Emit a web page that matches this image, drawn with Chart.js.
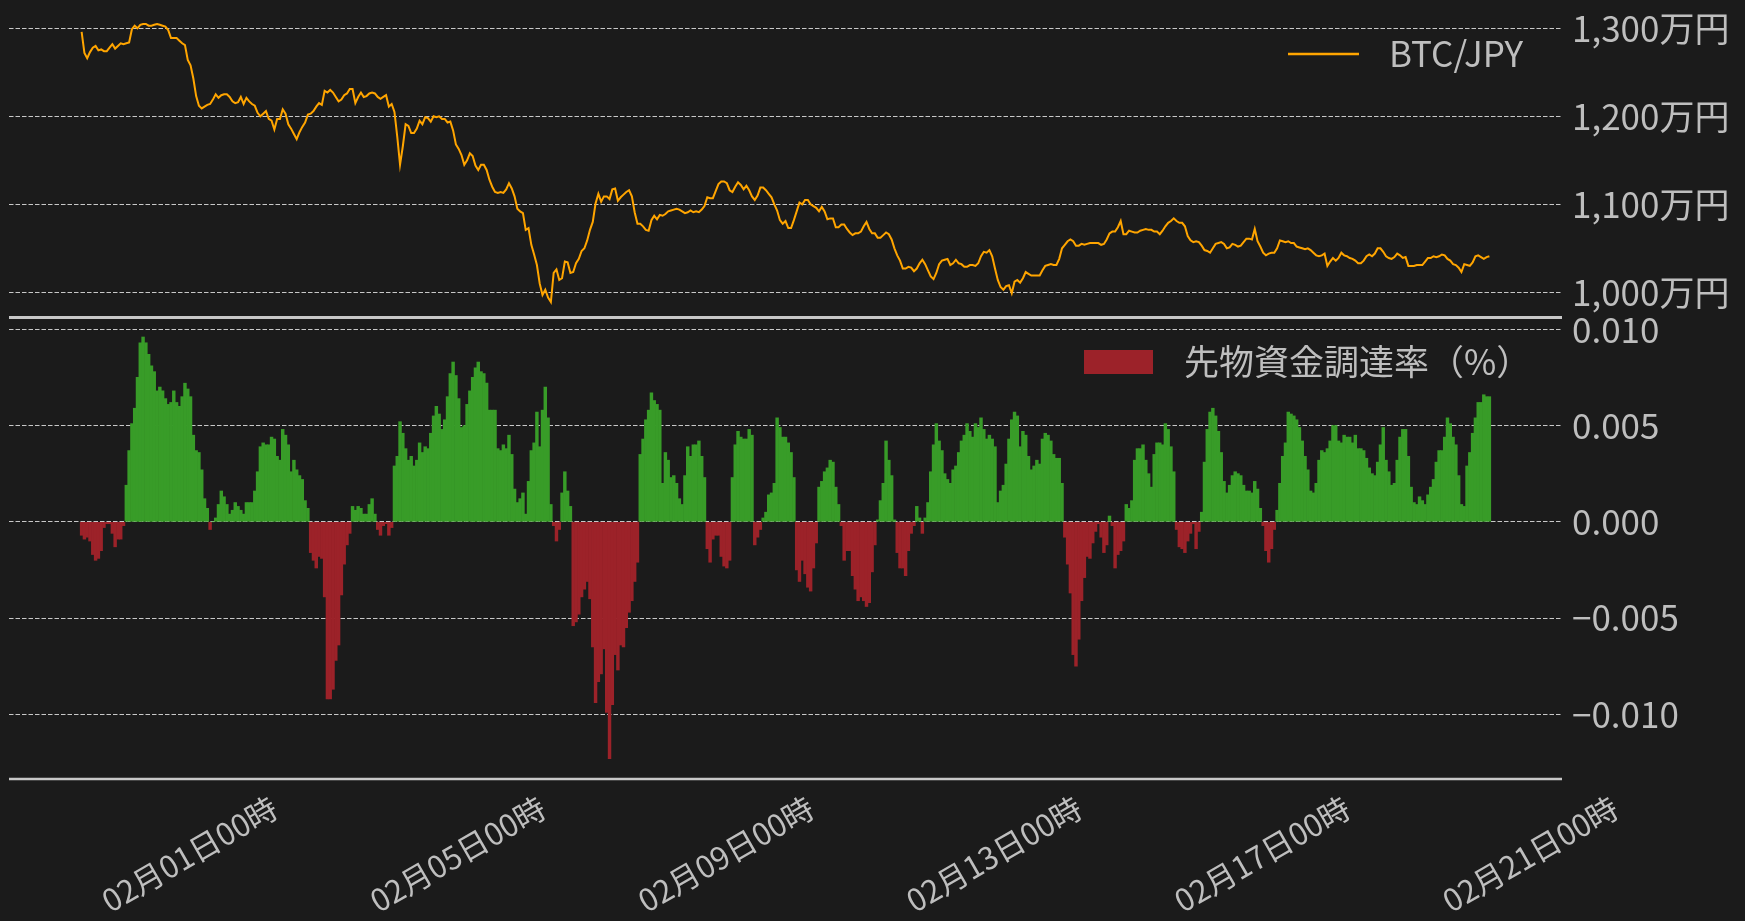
<!DOCTYPE html>
<html>
<head>
<meta charset="utf-8">
<script src="https://cdn.jsdelivr.net/npm/chart.js@4.4.1/dist/chart.umd.min.js"></script>
<style>
html,body{margin:0;padding:0;background:#1b1b1b;width:1745px;height:921px;overflow:hidden;}
#b1{position:absolute;left:0;top:0;width:1745px;height:330px;}
#b2{position:absolute;left:0;top:280px;width:1745px;height:641px;}
</style>
</head>
<body>
<div id="b1"><canvas id="c1"></canvas></div>
<div id="b2"><canvas id="c2"></canvas></div>
<script>
// hourly samples, first sample = 01月30日09時 (x = hours since first sample)
const price = [
1296,1272,1266,1273,1278,1280,1275,1276,1274,1274,
1278,1282,1277,1280,1283,1282,1283,1284,1299,1303,
1300,1304,1305,1305,1303,1303,1304,1305,1304,1303,
1302,1298,1289,1289,1289,1286,1283,1281,1264,1258,
1243,1223,1212,1209,1211,1213,1214,1219,1225,1221,
1224,1225,1225,1222,1217,1215,1216,1222,1214,1221,
1217,1214,1212,1204,1200,1203,1206,1197,1195,1185,
1197,1197,1208,1203,1191,1186,1180,1174,1182,1188,
1193,1202,1203,1206,1211,1215,1213,1229,1227,1230,
1227,1222,1217,1219,1224,1226,1231,1231,1215,1222,
1227,1222,1223,1226,1227,1226,1222,1220,1222,1224,
1211,1214,1205,1177,1145,1166,1191,1189,1181,1181,
1186,1195,1191,1199,1198,
1194,1200,1199,1200,1197,1197,1193,1194,1184,1168,
1163,1156,1145,1150,1158,1155,1144,1139,1145,1145,
1139,1128,1120,1114,1113,1114,1113,1117,1124,1118,
1109,1095,1092,1090,1071,1073,1054,1043,1031,1010,
997,1003,994,989,1022,1026,1014,1016,1035,1034,
1022,1023,1033,1038,1047,1050,1059,1071,1080,1101,
1112,1103,1109,1109,1106,1117,1118,1104,1108,1111,
1114,1116,1109,1091,1078,1078,1075,1071,1070,1082,
1087,1083,1088,1087,1089,1092,1093,1094,1095,1094,
1092,1090,1091,1093,1091,1092,1091,1094,1098,1108,
1107,1107,1115,1123,1126,1126,1124,1116,1114,1120,
1125,1122,1117,1121,1116,1109,1105,1110,1119,1119,
1116,1112,1108,1100,1093,1082,1078,1081,1073,
1073,1082,1092,1102,1100,1105,1105,1100,1098,1096,
1092,1097,1092,1083,1084,1084,1074,1074,1077,1077,
1072,1068,1065,1067,1067,1069,1075,1080,1072,1067,
1067,1062,1062,1065,1068,1066,1060,1050,1042,1036,
1027,1027,1029,1028,1024,1027,1033,1037,1032,1025,
1018,1015,1022,1032,1036,1037,1038,1031,1033,1037,
1033,1032,1029,1029,1031,1031,1030,1033,1041,1046,
1045,1048,1041,1027,1014,1006,1003,1007,1008,999,
1012,1014,1011,1016,1023,1021,1019,1019,1019,1019,
1025,1030,1031,1032,1031,1031,1038,1050,1054,1058,
1060,1058,1053,1053,1055,1054,1055,1056,1056,1056,
1056,1054,1055,1060,1067,1069,1069,1074,1081,1066,
1066,1070,1069,1068,1068,1070,1071,1072,1071,
1071,1069,1069,1066,1070,1075,1079,1081,1084,1081,
1079,1079,1075,1064,1059,1057,1058,1057,1053,1048,
1047,1045,1050,1055,1056,1057,1055,1050,1051,1055,
1054,1052,1053,1057,1061,1061,1060,1072,1058,1052,
1045,1042,1044,1045,1045,1050,1059,1058,1057,1058,
1056,1056,1052,1051,1050,1049,1050,1048,1045,1042,
1041,1042,1044,1030,1035,1039,1036,1039,1045,1042,
1041,1039,1038,1036,1033,1033,1036,1041,1043,1041,
1044,1050,1050,1046,1041,1039,1038,1040,1044,1042,
1039,1040,1030,1030,1030,1031,1031,1031,1035,1039,
1039,1041,1040,1041,1043,1042,1038,1036,1032,1031,
1028,1023,1032,1031,1030,1034,1041,1042,1040,1038,
1040,1041
];

const fundingRate = [
-.0007,-.0009,-.0008,-.0010,-.0017,-.0020,-.0019,-.0015,-.0003,-.0001,-.0001,-.0006,-.0013,-.0009,-.0009,-.0002,
.0019,.0037,.0051,.0059,.0075,.0093,.0096,.0093,.0087,.0081,.0078,.0068,.0070,.0068,.0064,.0061,.0062,.0068,.0062,.0060,.0065,.0072,.0069,.0065,.0045,.0037,.0036,.0027,.0012,.0007,
-.0004,0,
.0002,.0009,.0016,.0013,.0009,.0004,.0006,.0010,.0008,.0006,.0004,.0010,.0010,.0010,.0016,.0026,.0039,.0041,.0040,.0040,.0044,.0043,.0034,.0032,.0048,.0045,.0040,.0026,.0032,.0027,.0024,.0022,.0011,.0007,
-.0016,-.0020,-.0024,-.0018,-.0019,-.0039,-.0092,-.0092,-.0087,-.0072,-.0064,-.0038,-.0022,-.0012,-.0006,
.0008,.0006,.0008,.0007,.0004,.0004,.0009,.0012,.0004,
-.0004,-.0007,-.0002,-.0001,-.0007,-.0003,
.0029,.0034,.0052,.0046,.0038,.0032,.0034,.0029,.0032,.0041,.0036,.0039,.0038,
.0046,.0055,.0060,.0056,.0048,.0053,.0065,.0077,.0083,.0076,.0064,.0049,.0050,.0061,.0068,.0075,.0080,.0083,.0078,.0077,.0072,.0058,.0058,.0058,.0038,.0037,.0040,.0038,.0045,.0035,.0017,.0010,.0012,.0015,.0004,.0021,.0037,.0041,.0057,.0039,.0058,.0070,.0054,.0009,
-.0002,-.0010,-.0004,
.0015,.0026,.0016,.0008,
-.0054,-.0052,-.0048,-.0039,-.0035,-.0031,-.0040,-.0065,-.0094,-.0083,-.0079,-.0066,-.0099,-.0123,-.0095,-.0069,-.0077,-.0064,-.0065,-.0055,-.0047,-.0041,-.0031,-.0021,
.0035,.0043,.0053,.0058,.0067,.0063,.0061,.0058,.0020,.0036,.0032,.0023,.0024,.0020,.0012,.0009,.0024,.0039,.0034,.0040,.0040,.0042,.0034,.0023,
-.0014,-.0021,-.0009,-.0007,-.0007,-.0018,-.0023,-.0024,-.0020,
.0023,.0040,.0047,.0044,.0043,.0043,.0048,.0045,
-.0012,-.0008,-.0004,
.0002,.0005,.0014,.0015,.0020,.0054,.0049,.0044,.0044,.0041,.0036,
.0023,
-.0025,-.0031,-.0020,-.0027,-.0034,-.0036,-.0024,-.0011,
.0018,.0021,.0026,.0028,.0032,.0031,.0018,.0009,
-.0002,-.0020,-.0015,-.0015,-.0028,-.0035,-.0041,-.0039,-.0041,-.0044,-.0042,-.0026,-.0012,
.0001,
.0011,.0020,.0042,.0032,.0024,.0001,
-.0016,-.0024,-.0024,-.0028,-.0015,-.0006,-.0002,
.0008,.0002,
-.0006,
.0002,.0010,.0026,.0040,.0051,.0042,.0037,.0025,.0022,.0020,.0027,.0029,.0036,.0042,.0045,.0051,.0047,.0044,.0051,.0049,.0054,.0048,.0043,.0045,.0043,.0039,.0010,.0016,.0019,.0030,.0043,.0053,.0057,.0055,.0039,.0047,.0045,.0034,.0027,.0029,.0032,.0030,.0043,.0046,.0045,.0042,.0035,.0033,.0033,.0020,
-.0008,-.0022,-.0037,-.0069,-.0075,-.0061,-.0041,-.0029,-.0018,-.0019,-.0011,-.0005,-.0001,-.0008,-.0016,-.0012,
.0003,
-.0002,-.0024,-.0017,-.0015,-.0010,
.0009,.0007,.0011,.0032,.0038,.0038,.0040,.0032,.0025,
.0018,.0035,.0041,.0041,.0040,.0051,.0048,.0039,.0026,
-.0004,-.0013,-.0014,-.0016,-.0010,-.0006,-.0001,-.0014,-.0005,
.0005,.0031,.0048,.0057,.0059,.0055,.0047,.0036,.0021,.0015,.0019,.0024,.0026,.0025,.0024,.0019,.0016,.0016,.0015,.0021,.0017,.0007,
-.0002,-.0015,-.0021,-.0014,-.0004,
.0006,.0020,.0034,.0041,.0057,.0056,.0055,.0053,.0049,.0042,
.0034,.0027,.0016,.0015,.0020,.0032,.0037,.0036,.0038,.0042,
.0050,.0050,.0042,.0041,.0045,.0044,.0044,.0041,.0045,.0038,
.0038,.0037,.0033,.0028,.0025,.0024,.0031,.0040,.0049,.0032,
.0026,.0019,.0020,.0032,.0044,.0048,.0048,.0034,.0018,.0010,
.0009,.0013,.0011,.0009,.0014,.0018,.0022,.0031,.0037,.0037,
.0044,.0054,.0051,.0044,.0040,.0024,.0009,.0008,.0029,.0036,
.0046,.0054,.0062,.0062,.0066,.0065,.0065
];

const hours = price.map((_, i) => i);
const tickHours  = [39, 135, 231, 327, 423, 519];
const tickLabels = ['02月01日00時','02月05日00時','02月09日00時','02月13日00時','02月17日00時','02月21日00時'];
const priceTicks = [1000, 1100, 1200, 1300];
const rateTicks  = [-0.010, -0.005, 0, 0.005, 0.010];

const FONT = '"Noto Sans CJK JP", "Noto Sans", sans-serif';
const TEXT = '#bebebe';
const GRID = '#c8c8c8';
const ORANGE = '#FFA500';
const GREEN = '#389c28';
const RED = '#9c2229';
const X_MIN = -26, X_MAX = 530;

const panelLegend = {
  id: 'panelLegend',
  afterDatasetsDraw(chart, args, o) {
    const {ctx, chartArea: a} = chart;
    const ds = chart.data.datasets[0];
    ctx.save();
    if (o.kind === 'line') {
      ctx.strokeStyle = o.color; ctx.lineWidth = 2.5;
      ctx.beginPath();
      ctx.moveTo(a.right + o.markX, a.top + o.y);
      ctx.lineTo(a.right + o.markX + o.markW, a.top + o.y);
      ctx.stroke();
    } else {
      ctx.fillStyle = o.color;
      ctx.fillRect(a.right + o.markX, a.top + o.y - o.markH / 2, o.markW, o.markH);
    }
    ctx.fillStyle = TEXT;
    ctx.font = o.size + 'px ' + FONT;
    ctx.textBaseline = 'middle';
    ctx.textAlign = 'left';
    ctx.fillText(ds.label, a.right + o.textX, a.top + o.y);
    ctx.restore();
  }
};
const spine = {
  id: 'spine',
  afterDraw(chart, args, o) {
    const {ctx, chartArea: a} = chart;
    ctx.save();
    ctx.strokeStyle = GRID; ctx.lineWidth = o.width;
    ctx.beginPath();
    ctx.moveTo(a.left, a.bottom + o.dy); ctx.lineTo(a.right, a.bottom + o.dy);
    ctx.stroke();
    ctx.restore();
  }
};

const yCommon = (ticksArr, fmt, min, max) => ({
  position: 'right', min, max,
  afterFit: s => { s.width = 183; s.paddingTop = 0; s.paddingBottom = 0; },
  afterBuildTicks: s => { s.ticks = ticksArr.map(v => ({value: v})); },
  grid: {color: GRID, lineWidth: 1, drawTicks: false},
  border: {display: false, dash: [4.5, 2]},
  ticks: {color: TEXT, font: {family: FONT, size: 35}, padding: 10, callback: fmt}
});

new Chart(document.getElementById('c1'), {
  type: 'line',
  data: {datasets: [{
    label: 'BTC/JPY',
    data: price.map((v, i) => ({x: hours[i], y: v})),
    borderColor: ORANGE, borderWidth: 2, pointRadius: 0, tension: 0
  }]},
  options: {
    animation: false, responsive: true, maintainAspectRatio: false,
    layout: {padding: {left: 9, top: 0, right: 0, bottom: 12}},
    plugins: {
      legend: {display: false}, tooltip: {enabled: false},
      panelLegend: {kind: 'line', color: ORANGE, markX: -274, markW: 71, y: 54, textX: -173, size: 35},
      spine: {width: 3, dy: -0.5}
    },
    scales: {
      x: {type: 'linear', min: X_MIN, max: X_MAX, display: false, offset: false},
      y: yCommon(priceTicks, v => v.toLocaleString('en-US') + '万円', 970.8, 1332.2)
    }
  },
  plugins: [panelLegend, spine]
});

new Chart(document.getElementById('c2'), {
  type: 'bar',
  data: {datasets: [{
    label: '先物資金調達率（%）',
    data: fundingRate.map((v, i) => ({x: hours[i], y: v})),
    backgroundColor: fundingRate.map(v => v >= 0 ? GREEN : RED),
    borderWidth: 0, barPercentage: 1, categoryPercentage: 1, grouped: false
  }]},
  options: {
    animation: false, responsive: true, maintainAspectRatio: false,
    layout: {padding: {left: 9, top: 38, right: 0, bottom: 0}},
    plugins: {
      legend: {display: false}, tooltip: {enabled: false},
      panelLegend: {kind: 'box', color: RED, markX: -478, markW: 69, markH: 24, y: 44, textX: -378, size: 35},
      spine: {width: 2.5, dy: 0}
    },
    scales: {
      x: {
        type: 'linear', min: X_MIN, max: X_MAX, offset: false,
        afterFit: s => { s.height = 142; s.paddingLeft = 0; s.paddingRight = 0; },
        afterBuildTicks: s => { s.ticks = tickHours.map(v => ({value: v})); },
        grid: {display: false, drawTicks: false},
        border: {display: false},
        ticks: {color: TEXT, font: {family: FONT, size: 31}, minRotation: 30, maxRotation: 30,
                autoSkip: false, padding: 10, labelOffset: 84,
                callback: v => tickLabels[tickHours.indexOf(v)]}
      },
      y: yCommon(rateTicks, v => (v < 0 ? '\u2212' : '') + Math.abs(v).toFixed(3), -0.013361, 0.010587)
    }
  },
  plugins: [panelLegend, spine]
});
</script>
</body>
</html>
